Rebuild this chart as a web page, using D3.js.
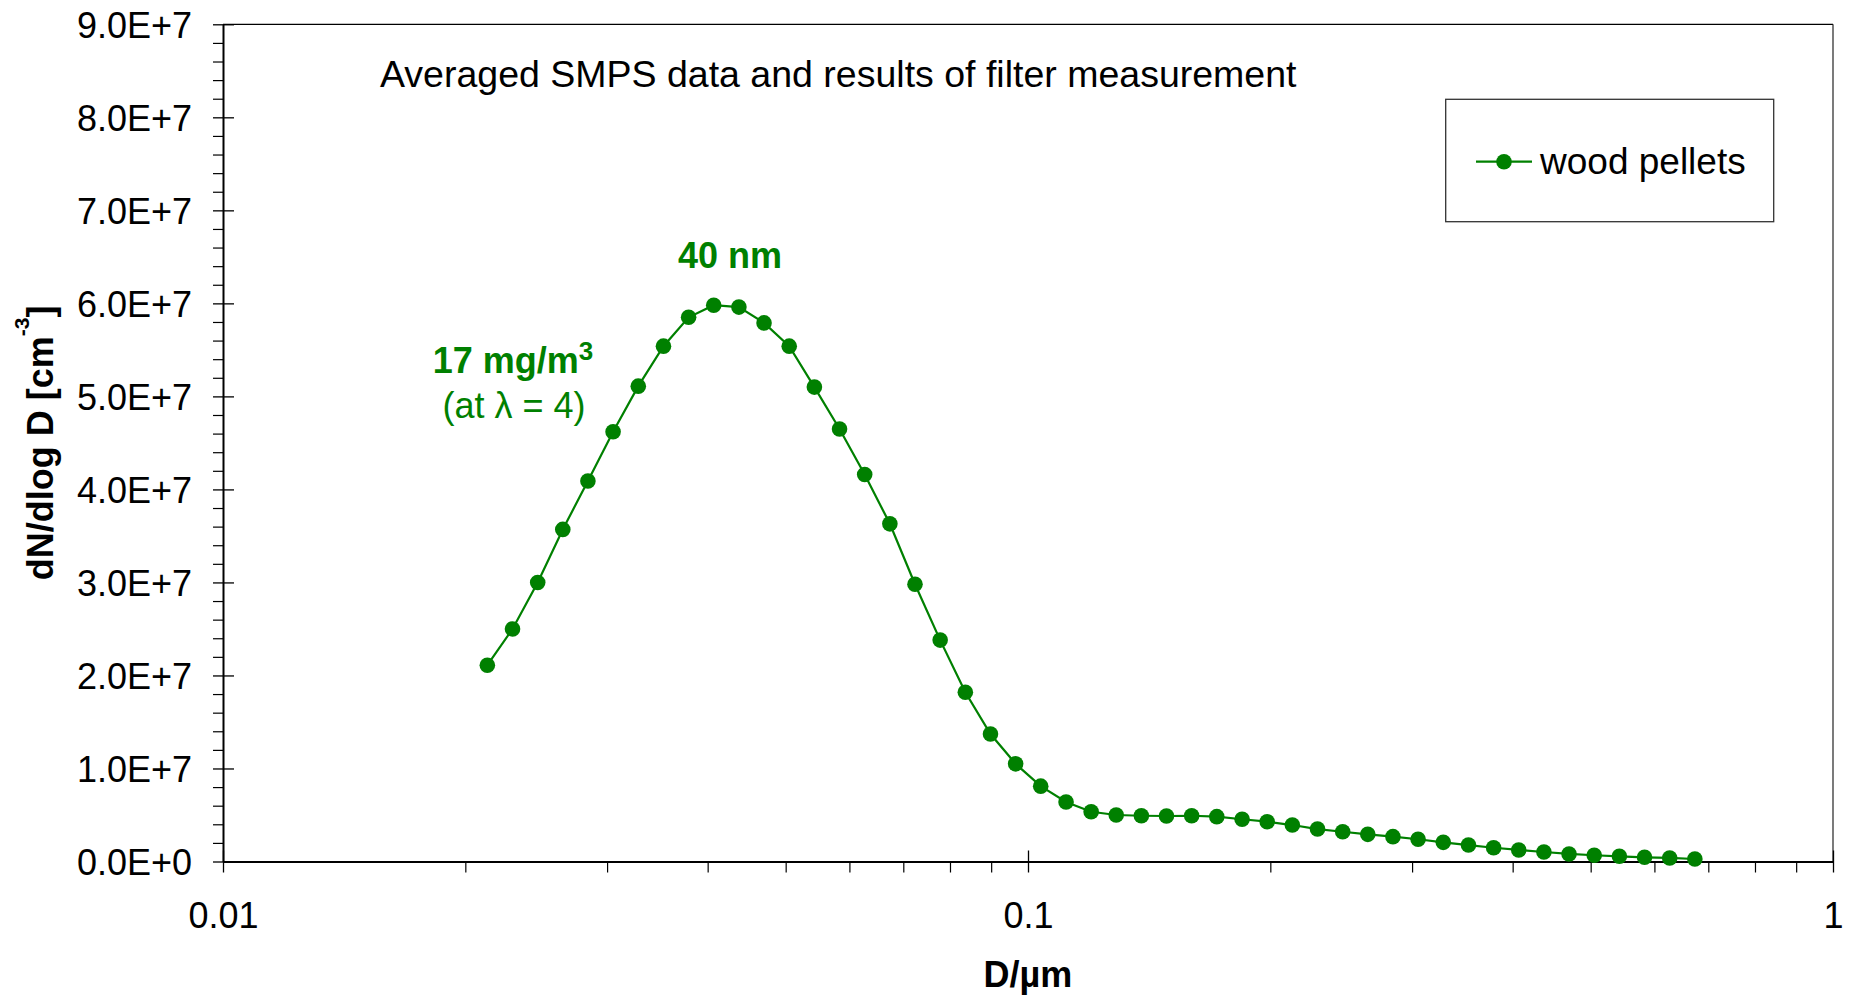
<!DOCTYPE html>
<html>
<head>
<meta charset="utf-8">
<script src="https://cdn.jsdelivr.net/npm/d3@7"></script>
<style>
  html, body { margin: 0; padding: 0; background: #fff; }
  svg { display: block; font-family: "Liberation Sans", Arial, sans-serif; }
</style>
</head>
<body>
<svg id="chart" width="1852" height="1001"></svg>
<script>
// ---- data ----
const diameters = [
  0.02130, 0.02289, 0.02460, 0.02643, 0.02840, 0.03052, 0.03280, 0.03525,
  0.03788, 0.04070, 0.04374, 0.04700, 0.05051, 0.05428, 0.05833, 0.06268,
  0.06736, 0.07238, 0.07778, 0.08359, 0.08982, 0.09652, 0.1037, 0.1115,
  0.1198, 0.1287, 0.1383, 0.1486, 0.1597, 0.1716, 0.1845, 0.1982,
  0.2130, 0.2289, 0.2460, 0.2643, 0.2840, 0.3052, 0.3280, 0.3525,
  0.3788, 0.4070, 0.4374, 0.4700, 0.5051, 0.5428, 0.5833, 0.6268,
  0.6736
];
const woodPellets = [
  2.11e7, 2.50e7, 3.00e7, 3.57e7, 4.09e7, 4.62e7, 5.11e7, 5.54e7,
  5.85e7, 5.98e7, 5.96e7, 5.79e7, 5.54e7, 5.10e7, 4.65e7, 4.16e7,
  3.63e7, 2.98e7, 2.38e7, 1.82e7, 1.37e7, 1.05e7, 0.81e7, 0.64e7,
  0.535e7, 0.50e7, 0.492e7, 0.489e7, 0.492e7, 0.482e7, 0.454e7, 0.428e7,
  0.392e7, 0.349e7, 0.320e7, 0.292e7, 0.267e7, 0.239e7, 0.206e7, 0.177e7,
  0.148e7, 0.124e7, 0.102e7, 0.081e7, 0.067e7, 0.056e7, 0.045e7, 0.038e7,
  0.027e7
];
const yTickValues = [0, 1e7, 2e7, 3e7, 4e7, 5e7, 6e7, 7e7, 8e7, 9e7];
const yTickLabels = ["0.0E+0", "1.0E+7", "2.0E+7", "3.0E+7", "4.0E+7", "5.0E+7", "6.0E+7", "7.0E+7", "8.0E+7", "9.0E+7"];
const xTickValues = [0.01, 0.1, 1];
const xTickLabels = ["0.01", "0.1", "1"];
const seriesName = "wood pellets";
const titleText = "Averaged SMPS data and results of filter measurement";
const xTitle = "D/\u00b5m";
const peakLabel = "40 nm";
const massLabel = "17 mg/m";
const lambdaLabel = "(at \u03bb = 4)";

// ---- layout ----
const green = "#008000";
const L = 223, R = 1833, T = 24.3, B = 861.5;
const svg = d3.select("#chart");

const x = d3.scaleLog().domain([0.01, 1]).range([L, R]);
const y = d3.scaleLinear().domain([0, 9e7]).range([B, T]);

// frame (top & right)
svg.append("line").attr("x1", L).attr("x2", R).attr("y1", T).attr("y2", T)
  .attr("stroke", "#000").attr("stroke-width", 1.3);
svg.append("line").attr("x1", R).attr("x2", R).attr("y1", T).attr("y2", B)
  .attr("stroke", "#222").attr("stroke-width", 1.2);

// y minor ticks
const yMinor = d3.range(0, 9e7 + 1, 2e6).filter(v => v % 1e7 !== 0);
svg.append("g").attr("transform", `translate(${L},0)`)
  .call(d3.axisLeft(y).tickValues(yMinor).tickSize(10).tickFormat(""))
  .call(g => g.select(".domain").remove())
  .call(g => g.selectAll("line").attr("stroke", "#000").attr("stroke-width", 1.2));

// y major axis
const yAxis = svg.append("g").attr("transform", `translate(${L},0)`)
  .call(d3.axisLeft(y).tickValues(yTickValues).tickSizeInner(10).tickSizeOuter(0).tickPadding(21)
    .tickFormat((d, i) => yTickLabels[i]));
yAxis.select(".domain").attr("stroke", "#000").attr("stroke-width", 2);
yAxis.selectAll(".tick line").attr("x1", 11).attr("x2", -10).attr("stroke", "#000").attr("stroke-width", 1.3);
yAxis.selectAll(".tick text").attr("font-size", 36).attr("fill", "#000").attr("dy", "0.37em")
  .attr("font-family", "'Liberation Sans', Arial, sans-serif");

// x minor ticks
const xMinor = [];
[0.01, 0.1].forEach(dec => { for (let k = 2; k <= 9; k++) xMinor.push(dec * k); });
svg.append("g").attr("transform", `translate(0,${B})`)
  .call(d3.axisBottom(x).tickValues(xMinor).tickSize(11).tickFormat(""))
  .call(g => g.select(".domain").remove())
  .call(g => g.selectAll("line").attr("stroke", "#000").attr("stroke-width", 1.2));

// x major axis
const xAxis = svg.append("g").attr("transform", `translate(0,${B})`)
  .call(d3.axisBottom(x).tickValues(xTickValues).tickSizeInner(11).tickSizeOuter(0).tickPadding(30)
    .tickFormat((d, i) => xTickLabels[i]));
xAxis.select(".domain").attr("stroke", "#000").attr("stroke-width", 2);
xAxis.selectAll(".tick line").attr("y1", -11).attr("y2", 11).attr("stroke", "#000").attr("stroke-width", 1.3);
xAxis.selectAll(".tick text").attr("font-size", 36).attr("fill", "#000")
  .attr("font-family", "'Liberation Sans', Arial, sans-serif");

// series
const pts = diameters.map((d, i) => ({ d, v: woodPellets[i] }));
const line = d3.line().x(p => x(p.d)).y(p => y(p.v));
svg.append("path").datum(pts).attr("d", line)
  .attr("fill", "none").attr("stroke", green).attr("stroke-width", 2.2);
svg.append("g").selectAll("circle").data(pts).join("circle")
  .attr("cx", p => x(p.d)).attr("cy", p => y(p.v)).attr("r", 7.8).attr("fill", green);

// title
svg.append("text").attr("x", 380).attr("y", 86.5).attr("font-size", 37.5).attr("fill", "#000")
  .text(titleText);

// axis titles
svg.append("text").attr("x", (L + R) / 2).attr("y", 987).attr("text-anchor", "middle")
  .attr("font-size", 36).attr("font-weight", "bold").attr("fill", "#000").text(xTitle);

const yt = svg.append("text").attr("transform", `translate(52.5,${(T + B) / 2}) rotate(-90)`)
  .attr("text-anchor", "middle").attr("font-size", 36).attr("font-weight", "bold").attr("fill", "#000");
yt.append("tspan").text("dN/dlog D [cm");
yt.append("tspan").attr("font-size", 21).attr("dy", -24).text("-3");
yt.append("tspan").attr("dy", 24).text("]");

// annotations
svg.append("text").attr("x", 730).attr("y", 267.5).attr("text-anchor", "middle")
  .attr("font-size", 36).attr("font-weight", "bold").attr("fill", green).text(peakLabel);
const m1 = svg.append("text").attr("x", 513).attr("y", 373).attr("text-anchor", "middle")
  .attr("font-size", 36).attr("font-weight", "bold").attr("fill", green);
m1.append("tspan").text(massLabel);
m1.append("tspan").attr("font-size", 26).attr("dy", -13).text("3");
svg.append("text").attr("x", 514).attr("y", 418).attr("text-anchor", "middle")
  .attr("font-size", 36).attr("fill", green).text(lambdaLabel);

// legend
const lg = svg.append("g");
lg.append("rect").attr("x", 1445.7).attr("y", 99.3).attr("width", 328).attr("height", 122.4)
  .attr("fill", "#fff").attr("stroke", "#333").attr("stroke-width", 1.3);
lg.append("line").attr("x1", 1476).attr("x2", 1532).attr("y1", 161.7).attr("y2", 161.7)
  .attr("stroke", green).attr("stroke-width", 2.2);
lg.append("circle").attr("cx", 1504).attr("cy", 161.7).attr("r", 7.8).attr("fill", green);
lg.append("text").attr("x", 1540).attr("y", 174).attr("font-size", 37).attr("fill", "#000").text(seriesName);
</script>
</body>
</html>
